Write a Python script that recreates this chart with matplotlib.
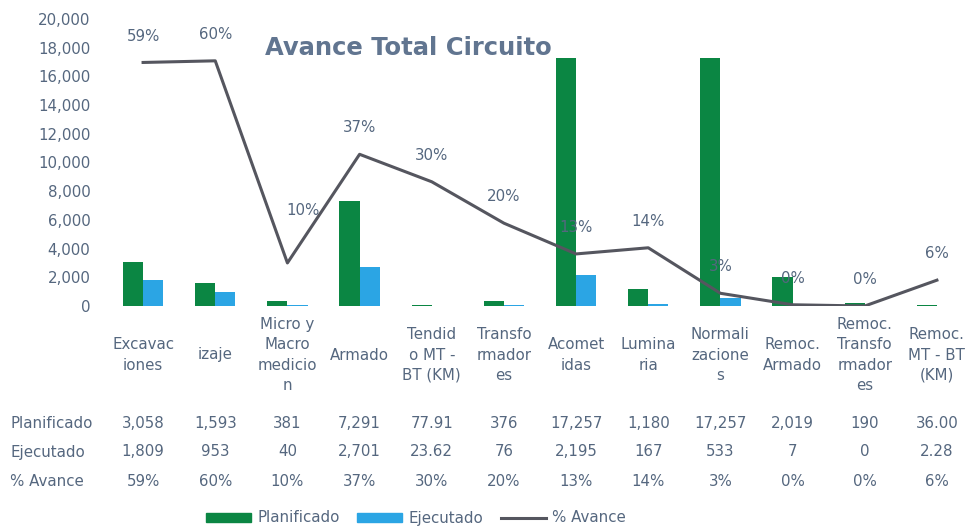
import numpy as np
import matplotlib.pyplot as plt
from matplotlib.patches import Patch
from matplotlib.lines import Line2D

categorias = ["Excavac\niones", "izaje", "Micro y\nMacro\nmedicio\nn", "Armado",
              "Tendid\no MT -\nBT (KM)", "Transfo\nrmador\nes", "Acomet\nidas",
              "Lumina\nria", "Normali\nzacione\ns", "Remoc.\nArmado",
              "Remoc.\nTransfo\nrmador\nes", "Remoc.\nMT - BT\n(KM)"]
planificado = [3058, 1593, 381, 7291, 77.91, 376, 17257, 1180, 17257, 2019, 190, 36.00]
ejecutado = [1809, 953, 40, 2701, 23.62, 76, 2195, 167, 533, 7, 0, 2.28]
avance = [0.594, 0.598, 0.105, 0.370, 0.303, 0.202, 0.127, 0.142, 0.031, 0.003, 0.0, 0.063]
txt_plan = ["3,058", "1,593", "381", "7,291", "77.91", "376", "17,257", "1,180", "17,257", "2,019", "190", "36.00"]
txt_ejec = ["1,809", "953", "40", "2,701", "23.62", "76", "2,195", "167", "533", "7", "0", "2.28"]
txt_avance = ["59%", "60%", "10%", "37%", "30%", "20%", "13%", "14%", "3%", "0%", "0%", "6%"]
yticks = list(range(0, 20001, 2000))

verde = '#0b8643'
azul = '#2ba5e4'
linea = '#55565f'
texto = '#55677f'
fs = 10.8

plt.rcParams['font.family'] = ['DejaVu Sans']
fig = plt.figure(figsize=(9.71, 5.28), dpi=100)
W, H = 971, 528
ax = fig.add_axes([107 / W, (H - 306) / H, 866 / W, 287 / H])

x = np.arange(len(categorias))
bw = 0.28
ax.bar(x - bw / 2, planificado, bw, color=verde, zorder=2)
ax.bar(x + bw / 2, ejecutado, bw, color=azul, zorder=2)
ax.set_xlim(-0.5, len(categorias) - 0.5)
ax.set_ylim(0, 20000)
ax.set_yticks(yticks)
ax.set_yticklabels([f"{v:,}" for v in yticks], color=texto, fontsize=fs)
ax.tick_params(axis='y', length=0, pad=12)
ax.set_xticks([])
for s in ax.spines.values():
    s.set_visible(False)

ax2 = ax.twinx()
ax2.plot(x, avance, color=linea, lw=2.2, zorder=3)
ax2.set_ylim(0, 0.7)
ax2.set_yticks([])
for s in ax2.spines.values():
    s.set_visible(False)
ajuste = {2: (11, 38)}
for i, v in enumerate(avance):
    dx, dy = ajuste.get(i, (0, 19))
    ax2.annotate(txt_avance[i], (i, v), xytext=(dx, dy), textcoords='offset points',
                 ha='center', va='center', color=texto, fontsize=fs)

fig.text(265 / W, 1 - 48 / H, "Avance Total Circuito", color='#617590',
         fontsize=17.5, fontweight='bold', va='center', ha='left')

# etiquetas de categorias y tabla
for i, c in enumerate(categorias):
    xf = (107 + 866 * (i + 0.5) / len(categorias)) / W
    fig.text(xf, 1 - 355 / H, c, ha='center', va='center', color=texto,
             fontsize=fs, linespacing=1.45)
    fig.text(xf, 1 - 424 / H, txt_plan[i], ha='center', va='center', color=texto, fontsize=fs)
    fig.text(xf, 1 - 452 / H, txt_ejec[i], ha='center', va='center', color=texto, fontsize=fs)
    fig.text(xf, 1 - 481 / H, txt_avance[i], ha='center', va='center', color=texto, fontsize=fs)

for lab, yy in [("Planificado", 424), ("Ejecutado", 452), ("% Avance", 481)]:
    fig.text(10 / W, 1 - yy / H, lab, ha='left', va='center', color=texto, fontsize=fs)

handles = [Patch(color=verde, label='Planificado'),
           Patch(color=azul, label='Ejecutado'),
           Line2D([0], [0], color=linea, lw=2.2, label='% Avance')]
leg = fig.legend(handles=handles, loc='center', bbox_to_anchor=(416 / W, 1 - 518 / H),
                 ncol=3, frameon=False, fontsize=fs, handlelength=3.0, handleheight=0.55,
                 columnspacing=1.2, handletextpad=0.4, borderpad=0.2)
for t in leg.get_texts():
    t.set_color(texto)

fig.savefig('out.png', dpi=100)
